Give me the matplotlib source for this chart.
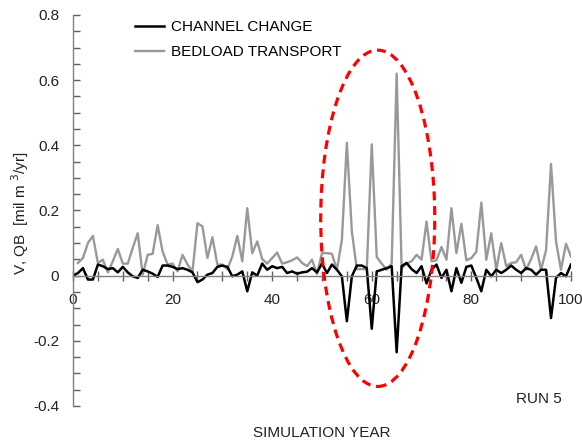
import matplotlib
matplotlib.use("Agg")
import matplotlib.pyplot as plt
from matplotlib.patches import Ellipse
from matplotlib.ticker import MultipleLocator

plt.rcParams['font.family'] = ['Liberation Sans', 'DejaVu Sans']

bed_years = list(range(1, 101))
bedload = [0.039, 0.054, 0.10, 0.122, 0.039, 0.049, 0.01, 0.044, 0.082, 0.037,
           0.037, 0.085, 0.13, 0.003, 0.064, 0.067, 0.155, 0.074, 0.034, 0.037,
           0.013, 0.064, 0.034, 0.013, 0.161, 0.151, 0.054, 0.118, 0.034, 0.034,
           0.02, 0.059, 0.122, 0.044, 0.207, 0.069, 0.105, 0.051, 0.037, 0.054,
           0.071, 0.037, 0.041, 0.047, 0.056, 0.039, 0.029, 0.049, 0.005, 0.069,
           0.069, 0.067, 0.018, 0.11, 0.408, 0.136, 0.02, 0.02, 0.02, 0.403,
           0.057, 0.037, 0.018, 0.037, 0.62, 0.023, 0.037, 0.044, 0.064, 0.049,
           0.166, 0.044, 0.047, 0.088, 0.049, 0.207, 0.069, 0.159, 0.047, 0.054,
           0.073, 0.224, 0.049, 0.13, 0.018, 0.1, 0.029, 0.039, 0.041, 0.064,
           0.018, 0.051, 0.09, 0.018, 0.078, 0.343, 0.105, 0.018, 0.098, 0.059]

chan_years = list(range(0, 101))
channel = [0.0, 0.008, 0.023, -0.012, -0.012, 0.034, 0.029, 0.02, 0.023, 0.01,
           0.027, 0.01, -0.002, -0.007, 0.018, 0.013, 0.006, -0.004, 0.031, 0.031,
           0.027, 0.02, 0.023, 0.018, 0.01, -0.02, -0.012, 0.003, 0.008, 0.027,
           0.031, 0.027, -0.002, 0.003, 0.013, -0.048, 0.01, 0.0, 0.037, 0.018,
           0.029, 0.023, 0.027, 0.008, 0.013, 0.006, 0.01, 0.012, 0.023, 0.01,
           0.037, 0.008, 0.034, 0.018, -0.002, -0.14, -0.002, 0.031, 0.031, 0.023,
           -0.163, 0.013, 0.018, 0.023, 0.029, -0.235, 0.029, 0.039, 0.02, 0.008,
           0.029, -0.024, 0.018, 0.034, -0.007, 0.018, -0.048, 0.023, -0.022, 0.027,
           0.031, -0.007, -0.048, 0.018, -0.002, 0.018, 0.008, 0.018, 0.031, 0.018,
           0.008, 0.023, 0.018, 0.003, 0.018, 0.018, -0.13, -0.007, 0.008, -0.002,
           0.034]

xticks = [0, 20, 40, 60, 80, 100]
yticks = [-0.4, -0.2, 0, 0.2, 0.4, 0.6, 0.8]
ytick_labels = ['-0.4', '-0.2', '0', '0.2', '0.4', '0.6', '0.8']

fig = plt.figure(figsize=(5.82, 4.40), dpi=100)
ax = fig.add_axes([0.1254, 0.0773, 0.8556, 0.8887])

ax.plot(bed_years, bedload, color='#999999', lw=1.7, label='BEDLOAD TRANSPORT')
ax.plot(chan_years, channel, color='black', lw=1.8, label='CHANNEL CHANGE')

ax.set_xlim(0, 100)
ax.set_ylim(-0.4, 0.8)

for s in ['top', 'right']:
    ax.spines[s].set_visible(False)
ax.spines['bottom'].set_position(('data', 0))
for s in ['left', 'bottom']:
    ax.spines[s].set_color('#808080')
    ax.spines[s].set_linewidth(1.0)

ax.set_xticks(xticks)
ax.set_xticklabels([str(t) for t in xticks])
ax.xaxis.set_minor_locator(MultipleLocator(5))
ax.set_yticks(yticks)
ax.set_yticklabels(ytick_labels)
ax.yaxis.set_minor_locator(MultipleLocator(0.05))

ax.tick_params(axis='x', which='both', direction='inout', length=7, width=1,
               color='#606060', labelsize=11, labelcolor='#222222', pad=9)
ax.tick_params(axis='y', which='both', direction='in', length=5, width=1,
               color='#606060', labelsize=11, labelcolor='#222222', pad=10)

ell = Ellipse((61.2, 0.176), width=22.9, height=1.032, fill=False,
              edgecolor='#ff0000', lw=2.3, linestyle=(0, (2.8, 1.8)),
              clip_on=False, zorder=5)
ax.add_patch(ell)

handles, labels = ax.get_legend_handles_labels()
leg = ax.legend(handles[::-1], labels[::-1], loc='upper left',
                bbox_to_anchor=(0.2215, 0.968), bbox_transform=fig.transFigure,
                frameon=False, fontsize=11, handlelength=1.9,
                handletextpad=0.45, labelspacing=0.71, borderaxespad=0)

fig.text(0.0345, 0.516, 'V, QB  [mil m $^{3}$/yr]', rotation=90,
         ha='center', va='center', fontsize=11, color='#222222')
fig.text(0.553, 0.016, 'SIMULATION YEAR', ha='center', va='center',
         fontsize=11, color='#222222')
fig.text(0.926, 0.093, 'RUN 5', ha='center', va='center',
         fontsize=11, color='#222222')

fig.savefig('out.png', dpi=100)
